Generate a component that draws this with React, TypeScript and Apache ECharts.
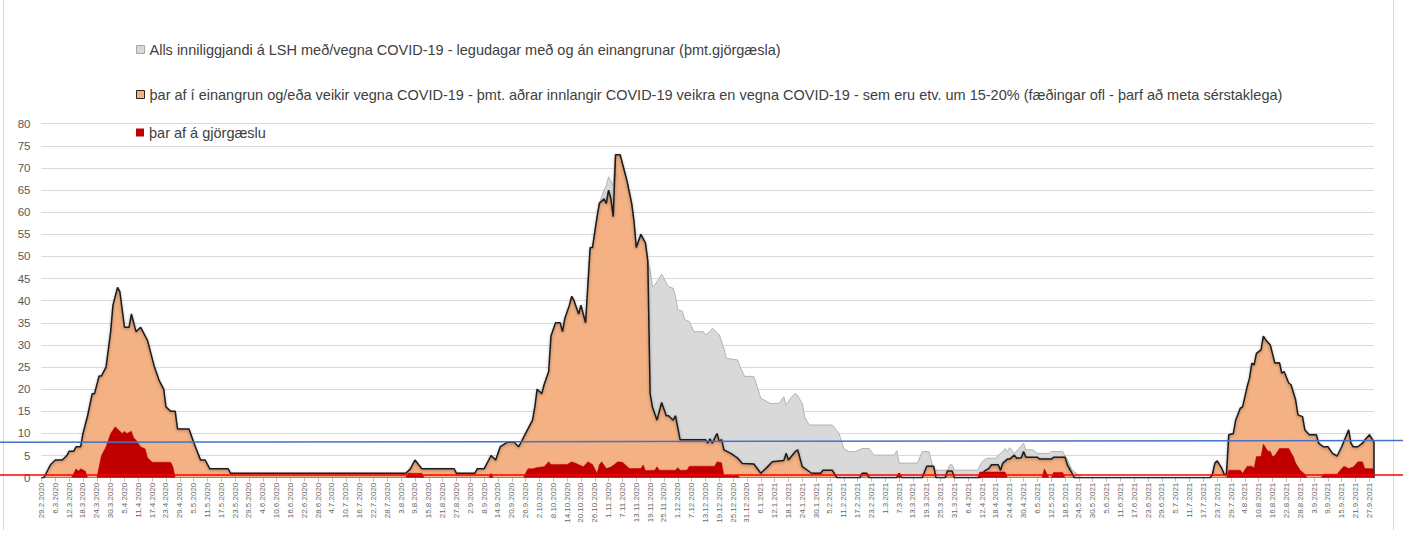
import React, { useEffect, useRef } from "react";
import * as echarts from "echarts";

// ---------- DATA ----------
const START_YEAR = 2020;
const START_MONTH = 2;
const START_DAY = 29;
const DAY_COUNT = 579; // 29.2.2020 .. 29.9.2021

const SERIES_NAMES = [
  "Alls inniliggjandi á LSH með/vegna COVID-19 - legudagar með og án einangrunar (þmt.gjörgæsla)",
  "þar af í einangrun og/eða veikir vegna COVID-19 - þmt. aðrar innlangir COVID-19 veikra en vegna COVID-19 - sem eru etv. um 15-20% (fæðingar ofl - þarf að meta sérstaklega)",
  "þar af á gjörgæslu",
];

// [day index from 29.2.2020, value]
const totalPoints: [number, number][] = [
  [236, 35], [238, 52], [239, 52], [241, 59], [242, 62], [244, 65], [245, 66], [246, 68], [247, 67], [248, 66],
  [249, 73], [251, 73], [252, 71], [254, 67], [256, 62], [257, 58], [258, 52], [260, 55], [262, 53], [263, 49],
  [264, 47], [265, 43.2], [266, 43.5], [269, 46], [271, 44], [272, 43.2], [274, 42.8], [275, 41], [276, 38],
  [278, 37.6], [279, 35.7], [281, 35.3], [283, 33], [287, 33], [288, 32.3], [290, 33], [291, 33.8], [294, 32.3],
  [296, 29.3], [297, 27], [302, 26.6], [303, 25.1], [305, 22.9], [309, 22.9], [312, 18], [316, 16.8], [320, 16.8],
  [322, 18.3], [323, 16.4], [325, 18], [327, 19.1], [328, 18.5], [330, 16.8], [331, 13.8], [333, 11.9], [343, 11.9],
  [346, 10], [348, 6.6], [350, 5.9], [353, 5.9], [356, 6.6], [359, 6.6], [361, 5.1], [370, 5.1], [371, 6.1],
  [372, 3.3], [380, 3.3], [382, 5.9], [385, 5.9], [387, 1.7], [393, 1.7], [394, 2.9], [395, 2.9], [396, 1.7],
  [406, 1.7], [408, 3.6], [410, 4.4], [414, 4.4], [415, 5.1], [417, 5.9], [418, 6.6], [419, 5.9], [420, 6.8],
  [422, 5.5], [424, 6.6], [426, 7.8], [427, 6.3], [430, 6.3], [432, 5.5], [437, 5.5], [438, 5.9], [443, 5.9],
  [445, 4], [447, 1.7], [449, 1], [451, 0],
];

const isolationPoints: [number, number][] = [
  [0, 0], [1, 0], [2, 1], [4, 3], [6, 4], [9, 4], [11, 5], [12, 6], [14, 6], [15, 7], [17, 7], [18, 10], [20, 14],
  [22, 19], [23, 19], [25, 23], [26, 23], [28, 25], [30, 33], [31, 39], [33, 43], [34, 42], [36, 34], [38, 34],
  [39, 37], [41, 33], [43, 34], [44, 33], [46, 31], [47, 29], [49, 25], [51, 22], [53, 20], [54, 16], [56, 15],
  [58, 15], [59, 11], [64, 11], [66, 8], [69, 4], [71, 4], [73, 2], [81, 2], [82, 1], [158, 1], [160, 2], [162, 4],
  [165, 2], [179, 2], [180, 1], [188, 1], [189, 2], [192, 2], [194, 4], [195, 5], [197, 4], [199, 7], [202, 8],
  [205, 8], [207, 7], [208, 8], [210, 10], [213, 13], [214, 16], [215, 20], [217, 19], [218, 21], [220, 24],
  [221, 32], [223, 35], [225, 35], [226, 33], [227, 36], [229, 39], [230, 41], [231, 40], [233, 37], [234, 39],
  [235, 37], [236, 35], [238, 52], [239, 52], [241, 59], [242, 62], [244, 63], [245, 62], [246, 65], [247, 63],
  [248, 59], [249, 73], [251, 73], [252, 71], [254, 67], [256, 62], [257, 58], [258, 52], [260, 55], [262, 53],
  [263, 49], [264, 19], [265, 16], [267, 13], [269, 17], [271, 14], [272, 14], [274, 13], [275, 14], [277, 8.6],
  [288, 8.6], [289, 7.8], [290, 8.8], [291, 7.8], [293, 10], [294, 8.2], [295, 8.6], [296, 6.3], [299, 5.5],
  [302, 4.4], [304, 3.2], [309, 3.1], [312, 1], [315, 2.5], [317, 3.6], [322, 3.9], [323, 5.5], [324, 4],
  [327, 5.9], [328, 6.3], [330, 2.5], [333, 1.4], [334, 1], [338, 1], [339, 1.7], [343, 1.7], [345, 0], [355, 0],
  [356, 1], [358, 1], [359, 0], [371, 0], [372, 1], [373, 0], [382, 0], [384, 2.6], [387, 2.6], [388, 0],
  [392, 0], [393, 1.5], [395, 1.5], [396, 0], [407, 0], [409, 1.5], [411, 2.1], [412, 2.9], [415, 2.9],
  [416, 1.7], [417, 3.3], [419, 4.2], [420, 4.2], [422, 5.1], [423, 4.4], [425, 4.5], [426, 5.9], [427, 4.6],
  [432, 4.6], [433, 4.2], [438, 4.2], [439, 4.6], [444, 4.6], [445, 2.9], [447, 1], [448, 0], [507, 0], [508, 1],
  [509, 3.3], [510, 3.8], [512, 2.1], [513, 0.8], [514, 0.8], [515, 9.7], [517, 10], [518, 13], [520, 15.7],
  [521, 16], [523, 20.6], [524, 22.5], [525, 25.9], [526, 25.5], [527, 28.1], [529, 28.9], [530, 32], [531, 31.2],
  [533, 30], [535, 25.9], [537, 26], [538, 23.6], [539, 24], [541, 21.4], [542, 21], [544, 17.6], [545, 14.2],
  [547, 13.8], [548, 10.8], [550, 9.7], [553, 9.7], [554, 7.8], [556, 7], [558, 7], [560, 5.5], [562, 4.9],
  [564, 7], [567, 10.8], [568, 7.8], [569, 7], [571, 7], [573, 7.8], [574, 8.5], [576, 9.7], [578, 8.1],
];

const icuPoints: [number, number][] = [
  [0, 0], [13, 0], [14, 1], [15, 2], [16, 1.5], [17, 2], [19, 1.5], [20, 0], [24, 0], [26, 5], [28, 7], [30, 10],
  [32, 11.5], [33, 11], [35, 10], [36, 10.5], [37, 10], [39, 10.5], [40, 9], [41, 8.5], [43, 7], [45, 6.5],
  [46, 4.5], [48, 3.5], [56, 3.5], [57, 2.5], [58, 0], [158, 0], [159, 1], [165, 1], [166, 0], [194, 0], [195, 1],
  [196, 0], [209, 0], [211, 2], [213, 2], [215, 2.3], [218, 2.5], [220, 3.6], [221, 3], [228, 3], [230, 3.6],
  [232, 3.2], [235, 2.5], [237, 3.6], [239, 3], [241, 1], [242, 3], [243, 3.6], [245, 2.1], [247, 2.4], [250, 3.6],
  [252, 3.5], [255, 2.1], [260, 2.1], [261, 2.9], [262, 1.6], [266, 1.7], [267, 2.5], [268, 1.7], [275, 1.7],
  [276, 2.3], [277, 1.7], [280, 1.7], [281, 2.6], [292, 2.6], [293, 3.6], [295, 3.4], [296, 0.5], [302, 0.5],
  [303, 0], [371, 0], [372, 1], [373, 0], [406, 0], [407, 1.3], [418, 1.3], [419, 0], [434, 0], [435, 2], [437, 0],
  [438, 0], [439, 1.2], [443, 1.2], [444, 0], [514, 0], [515, 1.7], [520, 1.7], [521, 1], [523, 2.6], [525, 2.6],
  [526, 2.2], [527, 4.8], [529, 4.8], [530, 7.6], [532, 6], [533, 6], [534, 4.8], [535, 5], [537, 6.6], [541, 6.6],
  [543, 4.8], [544, 3.3], [546, 1.7], [548, 0.8], [549, 0], [555, 0], [556, 0.8], [562, 0.8], [564, 2.1],
  [565, 2.6], [567, 2.1], [569, 2.4], [571, 3.6], [573, 3.6], [574, 2.1], [578, 2],
];

const Y_MIN = 0;
const Y_MAX = 80;
const Y_STEP = 5;
const LABEL_EVERY = 6; // days between x labels
const BLUE_LINE_VALUES = [8.0, 8.4]; // left end, right end
const RED_LINE_VALUE = 0.6;

// ---------- STYLE ----------
const FONT = "Liberation Sans";
const W = 1403;
const H = 536;

function buildDateLabels(): string[] {
  const out: string[] = [];
  const base = Date.UTC(START_YEAR, START_MONTH - 1, START_DAY);
  for (let i = 0; i < DAY_COUNT; i++) {
    const d = new Date(base + i * 86400000);
    out.push(`${d.getUTCDate()}.${d.getUTCMonth() + 1}.${d.getUTCFullYear()}`);
  }
  return out;
}

export default function App() {
  const ref = useRef<HTMLDivElement>(null);

  useEffect(() => {
    document.body.style.margin = "0";
    if (!ref.current) return;
    const chart = echarts.init(ref.current, undefined, { renderer: "svg" });
    const dates = buildDateLabels();
    const lastIndex = DAY_COUNT - 1;
    const lastIso = isolationPoints[isolationPoints.length - 1];
    // close the outlined area at the right edge, as the spreadsheet border does
    const isolationOutlined: [number, number][] = [...isolationPoints, [lastIso[0], 0]];

    const legendBase = {
      left: 136,
      orient: "horizontal",
      icon: "rect",
      itemWidth: 8,
      itemHeight: 8,
      itemGap: 4,
      padding: 0,
      selectedMode: false,
      textStyle: { fontFamily: FONT, fontSize: 14.5, color: "#404040" },
    };

    chart.setOption({
      animation: false,
      backgroundColor: "#ffffff",
      grid: { left: 41.5, right: 29, top: 123.7, bottom: 58.3, containLabel: false },
      legend: [
        {
          ...legendBase,
          top: 42,
          data: [{ name: SERIES_NAMES[0], itemStyle: { color: "#d9d9d9", borderColor: "#a6a6a6", borderWidth: 1 } }],
        },
        {
          ...legendBase,
          top: 87,
          data: [{ name: SERIES_NAMES[1], itemStyle: { color: "#f4b183", borderColor: "#262626", borderWidth: 1 } }],
        },
        {
          ...legendBase,
          top: 125,
          data: [{ name: SERIES_NAMES[2], itemStyle: { color: "#c00000", borderWidth: 0 } }],
        },
      ],
      xAxis: {
        type: "category",
        data: dates,
        boundaryGap: false,
        max: lastIndex,
        axisLine: { lineStyle: { color: "#d9d9d9" } },
        axisTick: { interval: LABEL_EVERY - 1, length: 4, lineStyle: { color: "#bfbfbf" } },
        axisLabel: {
          interval: LABEL_EVERY - 1,
          rotate: 90,
          fontSize: 8,
          fontFamily: FONT,
          color: "#666666",
          margin: 5,
        },
        splitLine: { show: false },
      },
      yAxis: {
        type: "value",
        min: Y_MIN,
        max: Y_MAX,
        interval: Y_STEP,
        axisLine: { show: false },
        axisTick: { show: false },
        axisLabel: { fontSize: 11.5, fontFamily: FONT, color: "#595959", margin: 11 },
        splitLine: { lineStyle: { color: "#d9d9d9", width: 1 } },
      },
      series: [
        {
          name: SERIES_NAMES[0],
          type: "line",
          data: totalPoints,
          showSymbol: false,
          symbol: "none",
          z: 1,
          lineStyle: { color: "#b3b3b3", width: 1 },
          itemStyle: { color: "#d9d9d9" },
          areaStyle: { color: "#d9d9d9", opacity: 1 },
        },
        {
          name: SERIES_NAMES[1],
          type: "line",
          data: isolationOutlined,
          showSymbol: false,
          symbol: "none",
          z: 2,
          lineStyle: {
            color: "#1a1a1a",
            width: 1.5,
            shadowColor: "rgba(0,0,0,0.35)",
            shadowBlur: 3,
            shadowOffsetY: 1,
          },
          itemStyle: { color: "#f4b183" },
          areaStyle: { color: "#f4b183", opacity: 1 },
        },
        {
          name: SERIES_NAMES[2],
          type: "line",
          data: icuPoints,
          showSymbol: false,
          symbol: "none",
          z: 3,
          lineStyle: { color: "#c00000", width: 0.5 },
          itemStyle: { color: "#c00000" },
          areaStyle: { color: "#c00000", opacity: 1 },
        },
      ],
    });

    const yBlueL = chart.convertToPixel({ yAxisIndex: 0 }, BLUE_LINE_VALUES[0]) as number;
    const yBlueR = chart.convertToPixel({ yAxisIndex: 0 }, BLUE_LINE_VALUES[1]) as number;
    const yRed = chart.convertToPixel({ yAxisIndex: 0 }, RED_LINE_VALUE) as number;

    chart.setOption({
      graphic: [
        {
          type: "line",
          z: 100,
          shape: { x1: 0, y1: yBlueL, x2: W, y2: yBlueR },
          style: { stroke: "#4472c4", lineWidth: 1.5 },
        },
        {
          type: "line",
          z: 100,
          shape: { x1: 0, y1: yRed, x2: W, y2: yRed },
          style: { stroke: "#ff0000", lineWidth: 1.5 },
        },
        {
          type: "line",
          z: 1,
          shape: { x1: 3.5, y1: 0, x2: 3.5, y2: H - 6 },
          style: { stroke: "#d9d9d9", lineWidth: 1 },
        },
        {
          type: "line",
          z: 1,
          shape: { x1: 1393.5, y1: 0, x2: 1393.5, y2: H - 6 },
          style: { stroke: "#d9d9d9", lineWidth: 1 },
        },
      ],
    });

    return () => chart.dispose();
  }, []);

  return <div ref={ref} style={{ width: W, height: H }} />;
}
